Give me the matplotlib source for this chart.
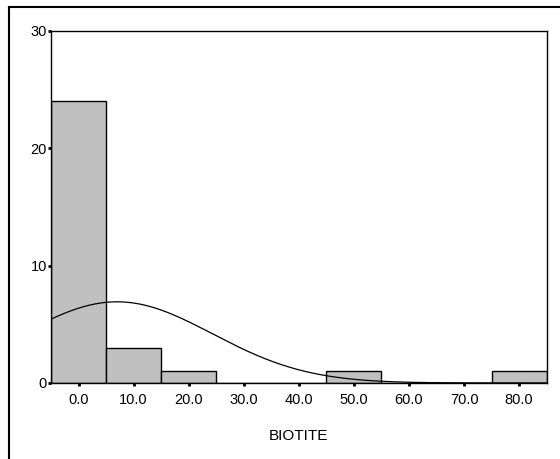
import matplotlib.pyplot as plt
import numpy as np
from matplotlib.lines import Line2D

plt.rcParams['font.family'] = ['Liberation Sans', 'DejaVu Sans']

# Histogram of biotite content (bin centres and counts)
bin_centers = [0, 10, 20, 30, 40, 50, 60, 70, 80]
counts = [24, 3, 1, 0, 0, 1, 0, 0, 1]
bin_width = 10
x_ticks = [0, 10, 20, 30, 40, 50, 60, 70, 80]
y_ticks = [0, 10, 20, 30]

# Normal curve fitted to the sample
n_cases = 30
mean_val = 7.0
sd_val = 17.3

fig = plt.figure(figsize=(5.6, 4.59), dpi=100)
ax = fig.add_axes([0.0911, 0.1656, 0.8851, 0.767])

ax.bar(bin_centers, counts, width=bin_width, color='#c0c0c0',
       edgecolor='black', linewidth=1.0, zorder=2)

xs = np.linspace(-5, 85, 400)
ys = n_cases * bin_width / (sd_val * np.sqrt(2 * np.pi)) * np.exp(-(xs - mean_val) ** 2 / (2 * sd_val ** 2))
ax.plot(xs, ys, color='black', linewidth=0.9, zorder=3)

ax.set_xlim(-5, 85)
ax.set_ylim(0, 30)
ax.set_xticks(x_ticks)
ax.set_xticklabels([f'{v:.1f}' for v in x_ticks])
ax.set_yticks(y_ticks)
ax.tick_params(direction='out', length=2, width=2, labelsize=10.5)
ax.tick_params(axis='x', pad=5)
ax.tick_params(axis='y', pad=1)
for s in ax.spines.values():
    s.set_linewidth(1.0)

ax.set_xlabel('BIOTITE', fontsize=11, labelpad=16)

# outer frame along the top and left of the figure
fig.add_artist(Line2D([9 / 560, 9 / 560], [0, 1 - 7 / 459], transform=fig.transFigure,
                      color='black', linewidth=1.5))
fig.add_artist(Line2D([9 / 560, 1], [1 - 7 / 459, 1 - 7 / 459], transform=fig.transFigure,
                      color='black', linewidth=1.5))

fig.savefig('out.png', dpi=100)
